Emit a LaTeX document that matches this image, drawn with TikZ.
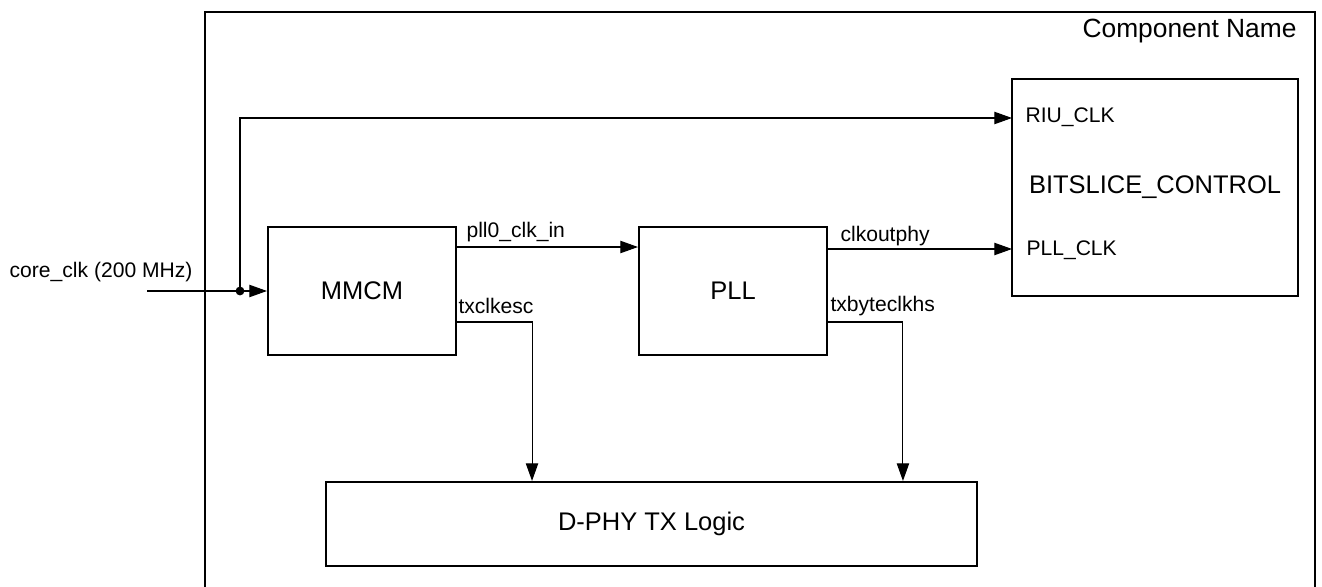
\documentclass[tikz,border=0pt]{standalone}
\usepackage{fontspec}
\setmainfont{Liberation Sans}
\usetikzlibrary{arrows.meta}
\begin{document}
\begin{tikzpicture}[x=0.02cm, y=-0.02cm, line width=0.6pt, font=\fontsize{12}{14}\selectfont,
  block/.style={draw, line width=1.2pt, inner sep=0pt, font=\fontsize{14.5}{17}\selectfont},
  sig/.style={-{Triangle[length=10pt, width=7pt]}},
  lbl/.style={inner sep=0pt}]
  \useasboundingbox (0,0) rectangle (1322,587);
  % component frame, open at the bottom
  \draw[line width=1.2pt] (205,587) -- (205,12) -- (1315,12) -- (1315,587);
  \node[lbl, anchor=base east, font=\fontsize{15}{18}\selectfont] (cname) at (1297,38) {Component Name};
  \node[block, minimum width=3.76cm, minimum height=2.56cm] (mmcm) at (362,291) {MMCM};
  \node[block, minimum width=3.76cm, minimum height=2.56cm] (pll) at (733,291) {PLL};
  \node[block, minimum width=5.72cm, minimum height=4.34cm] (bsc) at (1155,187.5) {BITSLICE\_CONTROL};
  \node[block, minimum width=13.02cm, minimum height=1.68cm] (dphy) at (651.5,524) {D-PHY TX Logic};
  % ports
  \coordinate (clkin) at (147,291);
  \coordinate (split) at (240,291);
  \coordinate (riu) at (1012,118);
  \coordinate (pllck) at (1012,249);
  \node[lbl, anchor=base west] (riulbl) at (1025,123) {RIU\_CLK};
  \node[lbl, anchor=base west] (pllcklbl) at (1026,256) {PLL\_CLK};
  \node[lbl, anchor=base east] (corelbl) at (193,278) {core\_clk (200 MHz)};
  \node[lbl, anchor=base west] (pllinlbl) at (466,238) {pll0\_clk\_in};
  \node[lbl, anchor=base west] (esclbl) at (458,314) {txclkesc};
  \node[lbl, anchor=base west] (phylbl) at (840,242) {clkoutphy};
  \node[lbl, anchor=base west] (hslbl) at (830,312) {txbyteclkhs};
  % clocks
  \draw[sig] (clkin) -- (mmcm.west);
  \fill (split) circle[radius=2.5pt];
  \draw[sig] (split) |- (riu);
  \draw[sig] ([yshift=0.88cm]mmcm.east) -- ([yshift=0.88cm]pll.west);
  \draw[sig] (pll.east |- pllck) -- (pllck);
  \draw[sig] ([yshift=-0.62cm]mmcm.east) -| ([xshift=-2.39cm]dphy.north);
  \draw[sig] ([yshift=-0.62cm]pll.east) -| ([xshift=5.03cm]dphy.north);
\end{tikzpicture}
\end{document}
